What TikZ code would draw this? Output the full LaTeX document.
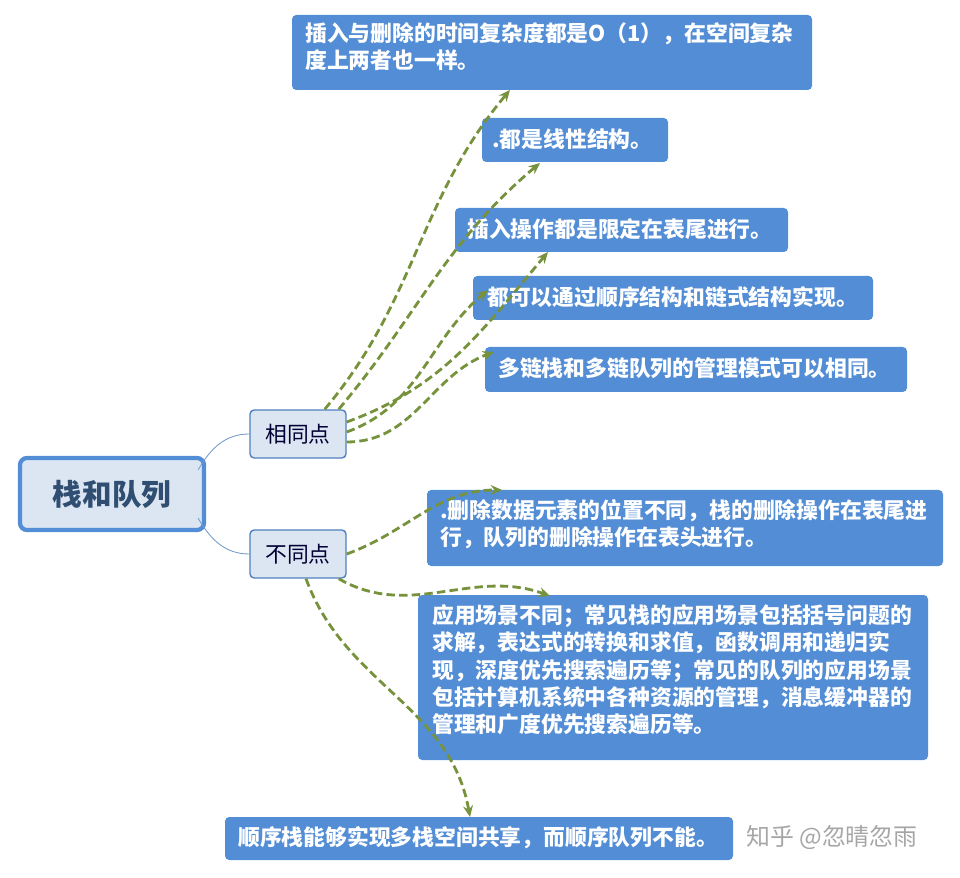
\documentclass[tikz,border=0pt]{standalone}
\usepackage{fontspec}
\setmainfont{Noto Sans CJK SC}
\usetikzlibrary{arrows.meta}
\definecolor{boxblue}{RGB}{83,141,213}
\definecolor{lightbox}{RGB}{220,230,242}
\definecolor{edgeblue}{RGB}{79,129,189}
\definecolor{arrowgreen}{RGB}{118,146,60}
\begin{document}
\begin{tikzpicture}[x=0.025cm,y=-0.025cm,>=Stealth]
  \tikzset{
    leaf/.style={text=white,font=\bfseries\fontsize{15.5}{19.5}\selectfont,align=left,anchor=north west,inner sep=0pt},
    mid/.style={fill=lightbox,draw=edgeblue,line width=1pt,rounded corners=3pt,font=\fontsize{15.5}{16}\selectfont,text=black!80!blue,minimum width=2.4cm,minimum height=1.2cm,inner sep=0pt},
    link/.style={arrowgreen,line width=2pt,dash pattern=on 6pt off 3pt,-{Stealth[length=8pt,width=7pt]}},
    stem/.style={edgeblue!80,line width=0.6pt}
  }
  \useasboundingbox (0,0) rectangle (960,878);

  % 根节点
  \node[fill=lightbox,draw=boxblue,line width=3pt,rounded corners=5pt,minimum width=4.6cm,minimum height=1.8cm,font=\bfseries\fontsize{21}{22}\selectfont,text=edgeblue!60!black] (root) at (112,494) {栈和队列};

  % 二级节点
  \node[mid] (same) at (298,434) {相同点};
  \node[mid] (diff) at (298,554) {不同点};
  \draw[stem] (root.north east) ++(-8,14) to[out=60,in=180] (same.west);
  \draw[stem] (root.south east) ++(-8,-14) to[out=-60,in=180] (diff.west);

  % 相同点
  \fill[boxblue,rounded corners=3pt] (292,15) rectangle (812,90);
  \node[leaf] (s1) at (305,22) {插入与删除的时间复杂度都是O（1），在空间复杂\\度上两者也一样。};
  \fill[boxblue,rounded corners=3pt] (482,118) rectangle (668,162);
  \node[leaf] (s2) at (492,128) {.都是线性结构。};
  \fill[boxblue,rounded corners=3pt] (455,208) rectangle (788,252);
  \node[leaf] (s3) at (467,218) {插入操作都是限定在表尾进行。};
  \fill[boxblue,rounded corners=3pt] (473,276) rectangle (873,320);
  \node[leaf] (s4) at (487,286) {都可以通过顺序结构和链式结构实现。};
  \fill[boxblue,rounded corners=3pt] (485,347) rectangle (907,392);
  \node[leaf] (s5) at (498,357) {多链栈和多链队列的管理模式可以相同。};

  % 不同点
  \fill[boxblue,rounded corners=3pt] (427,490) rectangle (943,566);
  \node[leaf] (d1) at (440,499) {.删除数据元素的位置不同，栈的删除操作在表尾进\\行，队列的删除操作在表头进行。};
  \fill[boxblue,rounded corners=3pt] (418,595) rectangle (928,760);
  \node[leaf] (d2) at (432,604) {应用场景不同；常见栈的应用场景包括括号问题的\\求解，表达式的转换和求值，函数调用和递归实\\现，深度优先搜索遍历等；常见的队列的应用场景\\包括计算机系统中各种资源的管理，消息缓冲器的\\管理和广度优先搜索遍历等。};
  \fill[boxblue,rounded corners=3pt] (225,817) rectangle (733,860);
  \node[leaf] (d3) at (238,826) {顺序栈能够实现多栈空间共享，而顺序队列不能。};

  \node[text=gray!70,font=\fontsize{17}{18}\selectfont] (mark) at (832,838) {知乎 @忽晴忽雨};

  % 箭头
  \coordinate (e1) at (510,90);
  \coordinate (e2) at (540,163);
  \coordinate (e3) at (548,252);
  \coordinate (e4) at (488,290);
  \coordinate (e5) at (494,352);
  \coordinate (f1) at (502,490);
  \coordinate (f2) at (550,596);
  \coordinate (f3) at (470,817);
  \draw[link] (same.north east) ++(-22,0) to[out=50,in=230] (e1);
  \draw[link] (same.north east) ++(-8,0) to[out=50,in=220] (e2);
  \draw[link] (same.east) ++(0,-12) to[out=20,in=230] (e3);
  \draw[link] (same.east) ++(0,-2) to[out=20,in=220] (e4);
  \draw[link] (same.east) ++(0,8) to[out=0,in=200] (e5);
  \draw[link] (diff.east) to[out=20,in=180] (f1);
  \draw[link] (diff.south east) ++(-8,0) to[out=-30,in=160] (f2);
  \draw[link] (diff.south) ++(8,0) to[out=-70,in=100] (f3);
\end{tikzpicture}
\end{document}
